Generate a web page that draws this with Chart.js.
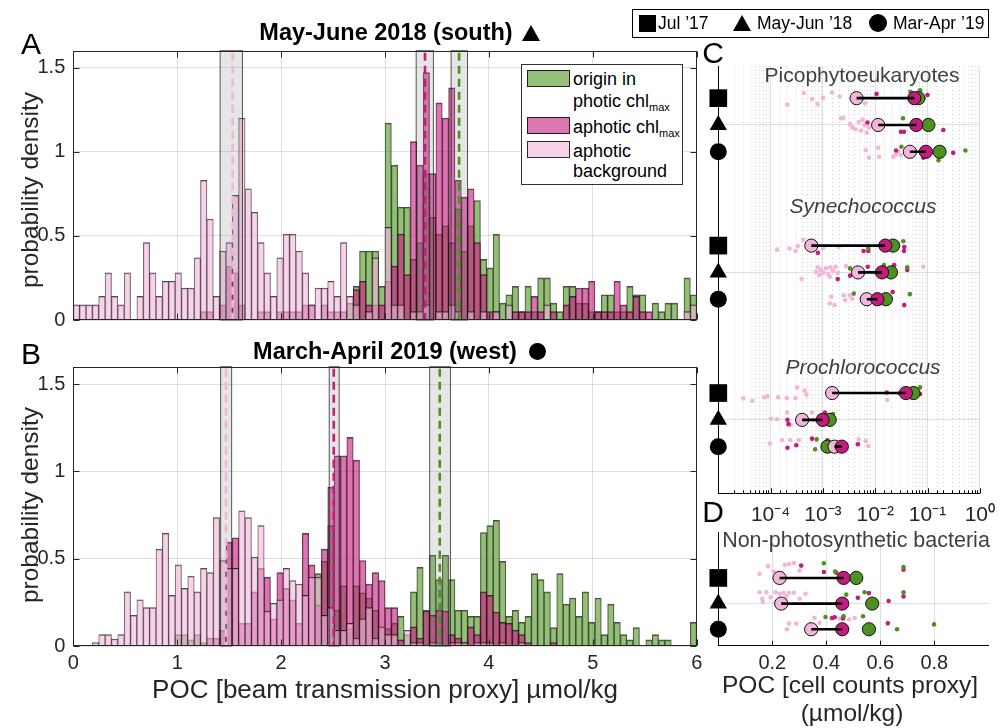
<!DOCTYPE html>
<html>
<head>
<meta charset="utf-8">
<title>POC histograms and cell-count proxies</title>
<script src="https://cdn.jsdelivr.net/npm/chart.js@4.4.1/dist/chart.umd.min.js"></script>
<style>
html,body{margin:0;padding:0;background:#fff;}
body{width:1004px;height:728px;position:relative;overflow:hidden;font-family:"Liberation Sans",Arial,Helvetica,sans-serif;color:#000;}
canvas{position:absolute;}
.t{position:absolute;white-space:nowrap;transform:translate(-50%,-50%);line-height:1;}
.tl{position:absolute;white-space:nowrap;transform:translate(0,-50%);line-height:1;}
.lbl{font-size:30px;}
.ttl{font-weight:bold;font-size:23.5px;}
.ax{font-size:25px;color:#262626;}
.sub{font-size:21px;color:#404040;}
.it{font-style:italic;}
.rot{transform:translate(-50%,-50%) rotate(-90deg);font-size:24.5px;}
#legA{position:absolute;left:521px;top:64px;width:160px;height:119px;border:1px solid #333;background:#fff;}
.patch{position:absolute;left:5px;width:41px;height:15px;border:1px solid rgba(0,0,0,0.8);}
.lt{position:absolute;left:51px;font-size:18px;line-height:1;white-space:nowrap;transform:translate(0,-50%);}
.lt sub{font-size:11px;vertical-align:-4px;line-height:0;}
#legTop{position:absolute;left:632px;top:9px;width:355px;height:27px;border:1px solid #000;background:#fff;font-size:17.5px;}
.sq{position:absolute;left:6px;top:5px;width:17px;height:17px;background:#000;}
.tri{position:absolute;left:100px;top:5px;width:0;height:0;border-left:9px solid transparent;border-right:9px solid transparent;border-bottom:16px solid #000;}
.cir{position:absolute;left:236px;top:4px;width:18px;height:18px;border-radius:50%;background:#000;}
.ttri{position:absolute;width:0;height:0;border-left:9px solid transparent;border-right:9px solid transparent;border-bottom:16px solid #000;}
.tcir{position:absolute;width:17px;height:17px;border-radius:50%;background:#000;}
</style>
</head>
<body>
<canvas id="cA" width="720" height="340" style="left:0;top:0;width:720px;height:340px"></canvas>
<canvas id="cB" width="720" height="340" style="left:0;top:340px;width:720px;height:340px"></canvas>
<canvas id="cC" width="304" height="490" style="left:700px;top:40px;width:304px;height:490px"></canvas>
<canvas id="cD" width="304" height="208" style="left:700px;top:520px;width:304px;height:208px"></canvas>

<div class="t lbl" style="left:31px;top:44px">A</div>
<div class="t ttl" style="left:386px;top:33px">May-June 2018 (south)</div>
<div class="ttri" style="left:522px;top:25px"></div>
<div class="t lbl" style="left:31px;top:354px">B</div>
<div class="t ttl" style="left:385px;top:352px">March-April 2019 (west)</div>
<div class="tcir" style="left:529px;top:343px"></div>
<div class="t ax rot" style="left:30px;top:190px">probability density</div>
<div class="t ax rot" style="left:30px;top:505px">probability density</div>
<div class="t ax" style="left:385px;top:689px;font-size:26px">POC [beam transmission proxy] µmol/kg</div>

<div id="legA">
  <div class="patch" style="top:5px;background:rgba(77,146,33,0.6)"></div>
  <div class="patch" style="top:52px;background:rgba(197,27,125,0.6)"></div>
  <div class="patch" style="top:76px;background:rgba(241,182,218,0.6)"></div>
  <div class="lt" style="top:14px">origin in</div>
  <div class="lt" style="top:36px">photic chl<sub>max</sub></div>
  <div class="lt" style="top:62px">aphotic chl<sub>max</sub></div>
  <div class="lt" style="top:86px">aphotic</div>
  <div class="lt" style="top:106px">background</div>
</div>

<div id="legTop">
  <div class="sq"></div><div class="tl" style="left:25px;top:14px">Jul ’17</div>
  <div class="tri"></div><div class="tl" style="left:124px;top:14px">May-Jun ’18</div>
  <div class="cir"></div><div class="tl" style="left:260px;top:14px">Mar-Apr ’19</div>
</div>

<div class="t lbl" style="left:713px;top:53px">C</div>
<div class="t lbl" style="left:713px;top:512px">D</div>
<div class="t sub" style="left:862px;top:74px">Picophytoeukaryotes</div>
<div class="t sub it" style="left:863px;top:205px">Synechococcus</div>
<div class="t sub it" style="left:863px;top:366px">Prochlorococcus</div>
<div class="t sub" style="left:856px;top:541px;font-size:21.5px">Non-photosynthetic bacteria</div>
<div class="t ax" style="left:850px;top:685px;font-size:24.5px">POC [cell counts proxy]</div>
<div class="t ax" style="left:852px;top:713px;font-size:24.5px">(µmol/kg)</div>

<script>
// ---------------- DATA ----------------
// Panels A/B: probability density in 98 bins spanning POC 0..6 µmol/kg
const aPhotic = [
0,0,0,0,0,0,0,0,0,0,
0,0,0,0,0,0,0,0,0,0,
0,0,0,0,0,0,0,0,0,0,
0,0,0,0,0,0,0,0,0,0,
0,0,0,.10,.20,.41,.41,.41,.20,1.17,
.92,.67,.67,.36,.46,.87,.61,.51,.56,.46,
.66,.41,.56,.71,.36,.31,.51,.10,.15,.20,
.05,.20,.05,.25,.25,.10,.05,.20,.20,.10,
.10,.05,.05,.15,.15,.05,.05,.20,.15,.15,
0,.10,.05,.10,.10,0,.25,.15];
const aAphotic = [
0,0,0,0,0,0,0,0,0,0,
0,0,0,0,0,0,0,0,0,0,
.05,.05,0,.09,.32,.28,.09,0,0,.05,
.05,0,.05,.05,.05,.05,.09,.09,0,.09,
.05,.05,.05,0,.18,.23,.09,.09,.09,.23,
.32,.51,.27,1.06,.92,1.47,.87,1.29,1.20,1.38,
.83,.73,.78,.46,.27,.05,.05,0,0,.05,
.05,.05,.14,.05,0,.05,0,.09,.14,.19,
.19,.23,.05,.05,.05,.23,.09,.05,.14,.05,
.05,0,0,0,0,0,0,0];
const aBackground = [
.09,.09,.09,.09,.14,.28,.14,.09,.28,0,
.14,.46,.28,.14,.23,.23,.28,.19,.19,.37,
.83,.60,.14,.41,.46,.74,1.20,.78,.64,.46,
.28,.14,.37,.51,.51,.41,.28,.09,.19,.19,
.23,.14,.46,.14,.09,0,.05,.37,0,.55,
.09,.09,0,.05,.05,.09,0,.05,.05,.09,
.05,0,.05,0,.05,0,.05,0,.09,0,
0,0,0,0,.09,0,0,0,0,0,
0,0,0,0,0,0,0,0,0,0,
0,0,0,0,0,0,.05,.09];
const bPhotic = [
0,0,0,0,0,0,0,0,0,0,
0,0,0,0,0,0,.065,.065,.035,.065,
0,0,0,0,0,0,0,0,0,0,
0,0,0,0,0,0,0,0,.415,.485,
.69,.205,.345,.10,.345,.305,.275,.205,.10,.10,
.13,.17,.065,.31,.45,.20,.52,.38,.52,.38,
.205,.205,.17,.17,.65,.69,.72,.485,.17,.205,
.135,.17,.415,.38,.31,.105,.415,.24,.275,.17,
.31,.135,.275,.065,.24,.135,.065,.035,.105,0,
.035,.065,.035,.035,0,0,0,.135];
const bAphotic = [
0,0,0,0,0,0,0,0,0,0,
0,0,0,0,0,0,0,0,0,0,
.02,.045,.045,.09,.595,.62,.13,.13,.31,.445,
.395,.155,.42,.33,.265,.13,.645,.465,.235,.555,
.91,1.09,1.09,1.195,1.065,.49,.355,.42,.375,.22,
.22,.035,0,.11,.045,.205,.175,.205,.20,.065,
.045,.02,.11,.065,.31,.29,.195,.135,.13,.09,
.065,.02,0,0,0,.02,0,0,0,0,
0,0,0,0,0,0,0,0,0,0,
0,0,0,0,0,0,0,0];
const bBackground = [
0,0,0,.02,.065,.065,.04,.065,.31,.175,
.265,.22,.22,.555,.645,.29,.465,.33,.40,.31,
.445,.42,.735,.49,.445,.445,.775,.735,.51,.69,
.20,.245,.265,.445,.375,.355,.29,.395,.395,.175,
.22,.09,.09,.13,.045,.155,.22,.045,.11,.065,
.065,0,.09,.02,.02,0,.02,.02,0,.02,
.02,.02,0,.02,.02,.02,0,.02,0,0,
.02,0,0,0,0,0,0,0,0,0,
0,0,0,0,0,0,0,0,0,0,
0,0,0,0,0,0,0,0];
// median bands [low, high] and medians: background, aphotic chl max, photic chl max
const aBands = [[1.413,1.628],[3.30,3.466],[3.636,3.794]];
const aMedians = [1.533,3.385,3.713];
const bBands = [[1.418,1.524],[2.463,2.559],[3.43,3.63]];
const bMedians = [1.47,2.507,3.527];
const xTicksAB = [0,1,2,3,4,5,6];
const yTicksAB = [0,0.5,1,1.5];

// Panels C/D: rows = Jul '17, May-Jun '18, Mar-Apr '19 ; means (µmol/kg)
const cRowY = [[1,2,3],[6.5,7.5,8.5],[12,13,14]];
const cGridY = [2,7.5,13];
const cTickVals = [1e-4,1e-3,1e-2,1e-1,1];
const cTickLabels = ['10⁻⁴','10⁻³','10⁻²','10⁻¹','10⁰'];
const picoPink = [0.0044,0.0114,0.046], picoMag = [0.056,0.061,0.093], picoGreen = [0.067,0.104,0.17];
const synPink = [6.0e-4,0.0047,0.0069], synMag = [0.0156,0.0135,0.011], synGreen = [0.022,0.020,0.016];
const proPink = [0.0015,4.0e-4,0.00167], proMag = [0.0386,9.9e-4,0.0023], proGreen = [0.054,0.00135,0.00122];
const hetPink = [0.227,0.233,0.344], hetMag = [0.464,0.459,0.459], hetGreen = [0.511,0.57,0.558];
// individual samples: [value, row, vertical jitter]
const picoPinkDots = [[2.1e-4,0,.25],[4.3e-4,0,-.19],[6.2e-4,0,.03],[7.9e-4,0,.22],[1.0e-3,0,-.01],[1.5e-3,0,-.21],[2.1e-3,0,-.06],[6.4e-3,0,.19],
[2.2e-3,1,-.25],[2.45e-3,1,-.27],[3.3e-3,1,-.04],[3.65e-3,1,.09],[4.2e-3,1,.16],[4.85e-3,1,-.11],[5.4e-3,1,.21],[5.75e-3,1,-.19],[6.3e-3,1,.01],[6.9e-3,1,.29],[7.6e-3,1,.09],
[6.6e-3,2,-.06],[7.6e-3,2,.22],[0.0114,2,-.15],[0.0119,2,.19],[0.0222,2,.19],[0.0249,2,.10],[0.0275,2,-.02],[0.0308,2,.12]];
const picoMagDots = [[0.0106,0,-.16],[0.083,0,0],[0.1,0,-.12],[7.1e-3,1,-.09],[0.031,1,.25],[0.0355,1,.25],[0.2,1,.19],[0.025,2,-.05],[0.083,2,.22],[0.096,2,-.15],[0.31,2,.04]];
const picoGreenDots = [[0.047,0,-.24],[0.072,0,-.29],[0.034,1,-.25],[0.0316,2,-.19],[0.162,2,.32],[0.53,2,-.05]];
const synPinkDots = [[1.33e-4,0,.15],[2.3e-4,0,.11],[3.0e-4,0,.2],[3.3e-4,0,.02],[4.2e-4,0,-.22],[1.0e-3,0,.09],[2.0e-3,0,.05],
[3.9e-4,1,.25],[7.4e-4,1,-.02],[8.0e-4,1,-.19],[8.6e-4,1,.1],[9.1e-4,1,-.09],[1.02e-3,1,.01],[1.14e-3,1,-.15],[1.26e-3,1,.06],[1.39e-3,1,-.19],[1.56e-3,1,-.06],[1.74e-3,1,-.21],[1.92e-3,1,.01],[1.35e-3,1,.16],[2.75e-3,1,-.24],[0.083,1,-.21],
[1.45e-3,2,-.09],[1.35e-3,2,.16],[1.67e-3,2,.22],[2.5e-3,2,-.15],[2.67e-3,2,.04],[3.26e-3,2,-.15],[3.65e-3,2,-.02],[5.6e-3,2,.04]];
const synMagDots = [[8.0e-4,0,.27],[6.0e-3,0,.2],[7.4e-3,0,.2],[0.0355,0,.2],[0.036,0,.05],[1.92e-3,1,.25],[3.3e-3,1,.12],[7.2e-3,1,-.21],[0.023,1,-.27],[0.041,1,-.09],[0.0216,2,-.27],[0.036,2,.22]];
const synGreenDots = [[7.4e-3,0,.11],[0.0345,0,-.16],[3.3e-3,1,-.15],[0.0147,1,-.27],[0.041,1,-.19],[3.9e-3,2,-.21],[0.046,2,-.19]];
const proPinkDots = [[3.0e-5,0,.2],[4.5e-5,0,.29],[7.5e-5,0,.16],[8.7e-5,0,.12],[1.39e-4,0,.16],[2.04e-4,0,.19],[3.0e-4,0,.19],[3.2e-4,0,-.21],[4.45e-4,0,-.09],[4.85e-4,0,.06],[0.017,0,.26],
[1.02e-4,1,-.04],[1.33e-4,1,-.02],[2.07e-4,1,-.27],[2.45e-4,1,.19],[3.26e-4,1,.12],[6.2e-4,1,-.27],[6.7e-4,1,0],
[9.7e-5,2,-.12],[1.65e-4,2,-.25],[2.38e-4,2,-.25],[3.5e-4,2,-.25],[6.2e-4,2,-.27],[4.85e-3,2,-.27],[6.6e-3,2,-.21],[7.4e-3,2,-.02]];
const proMagDots = [[0.0166,0,-.02],[0.029,0,.01],[0.072,0,.04],[2.1e-4,1,0],[2.2e-4,1,.16],[1.09e-3,1,-.27],[1.56e-3,1,.06],[2.1e-4,2,.04],[3.1e-4,2,-.05],[6.2e-4,2,-.3],[1.22e-3,2,-.24],[4.66e-3,2,-.09]];
const proGreenDots = [[0.072,0,-.21],[1.26e-3,1,0],[1.56e-3,1,-.22],[7.6e-4,2,-.27],[7.1e-4,2,.1],[2.4e-3,2,.1]];
const dRowY = [1,2,3];
const dGridY = [2];
const dTickVals = [0.2,0.4,0.6,0.8];
const hetPinkDots = [[.153,0,-.16],[.184,0,-.46],[.205,0,-.25],[.246,0,-.51],[.262,0,-.54],[.280,0,-.58],[.301,0,-.29],
[.153,1,-.44],[.163,1,-.19],[.178,1,-.44],[.194,1,-.25],[.212,1,-.44],[.227,1,-.38],[.242,1,-.42],[.262,1,-.42],[.280,1,-.42],[.301,1,-.19],[.323,1,-.38],[.165,1,-.06],[.215,1,-.06],[.252,1,-.28],
[.254,2,0],[.262,2,-.22],[.289,2,-.22],[.357,2,-.44],[.375,2,-.25],[.418,2,-.44],[.449,2,-.42],[.484,2,-.38],[.505,2,-.44]];
const hetMagDots = [[.307,0,-.48],[.391,0,-.23],[.437,0,-.2],[.686,0,-.32],[.517,1,-.23],[.558,1,-.41],[.631,1,-.1],[.686,1,-.28],[.422,2,-.44],[.431,2,-.47],[.462,2,-.42],[.628,2,-.23]];
const hetGreenDots = [[.391,0,-.57],[.433,0,-.25],[.686,0,-.42],[.474,1,-.35],[.542,1,-.44],[.686,1,-.44],[.397,2,-.48],[.464,2,-.51],[.536,2,-.51],[.662,2,0],[.799,2,-.19]];
const rowMarkers = ['rect','triangle','circle'];

// ---------------- STYLE ----------------
const GREEN='77,146,33', MAG='197,27,125', PINK='241,182,218';
const EDGE='rgba(0,0,0,0.7)';
const GRID='rgba(38,38,38,0.15)';
const AXC='#262626';
const FONT='"Liberation Sans", Arial, Helvetica, sans-serif';
const TICK=6;
Chart.defaults.font.family = FONT;

const NB = aPhotic.length;
const binLabels = aPhotic.map((_, i) => ((i + 0.5) * 6 / NB).toFixed(3));

function barSet(label, vals, rgb, order){
  return {label, data: vals.map(v => v > 0 ? v : null), backgroundColor:`rgba(${rgb},0.6)`,
    borderColor: EDGE, borderWidth:{left:0.6,right:0.6,top:1,bottom:0}, grouped:false,
    barPercentage:1, categoryPercentage:1, order};
}

function histChart(id, photic, aph, bg, bands, meds, showX, padTop, xAxisH){
  const colors = [PINK, MAG, GREEN];
  const bandPlugin = {id:'bands', afterDatasetsDraw(chart){
    const {ctx, chartArea:a} = chart; const xs = chart.scales.xt;
    ctx.save();
    bands.forEach((b, i) => {
      const x1 = xs.getPixelForValue(b[0]), x2 = xs.getPixelForValue(b[1]);
      ctx.fillStyle = 'rgba(128,128,128,0.2)';
      ctx.fillRect(x1, a.top, x2 - x1, a.bottom - a.top);
      ctx.strokeStyle = 'rgba(0,0,0,0.65)'; ctx.lineWidth = 1; ctx.setLineDash([]);
      ctx.strokeRect(x1, a.top, x2 - x1, a.bottom - a.top);
      const xm = xs.getPixelForValue(meds[i]);
      ctx.setLineDash([8,5]); ctx.lineWidth = 2.6; ctx.strokeStyle = `rgb(${colors[i]})`;
      ctx.beginPath(); ctx.moveTo(xm, a.top + 2); ctx.lineTo(xm, a.bottom); ctx.stroke();
    });
    ctx.restore();
  }};
  const framePlugin = {id:'frame', afterDraw(chart){
    const {ctx, chartArea:a} = chart; const xs = chart.scales.xt, ys = chart.scales.y;
    ctx.save(); ctx.strokeStyle = AXC; ctx.lineWidth = 1;
    const L = Math.round(a.left)+0.5, R = Math.round(a.right)-0.5, T = Math.round(a.top)+0.5, B = Math.round(a.bottom)-0.5;
    ctx.strokeRect(L, T, R-L, B-T);
    ctx.beginPath();
    xTicksAB.forEach(v => { const x = Math.round(xs.getPixelForValue(v))+0.5; ctx.moveTo(x,B); ctx.lineTo(x,B-TICK); ctx.moveTo(x,T); ctx.lineTo(x,T+TICK); });
    yTicksAB.forEach(v => { const y = Math.round(ys.getPixelForValue(v))+0.5; ctx.moveTo(L,y); ctx.lineTo(L+TICK,y); ctx.moveTo(R,y); ctx.lineTo(R-TICK,y); });
    ctx.stroke(); ctx.restore();
  }};
  return new Chart(document.getElementById(id), {
    type:'bar',
    data:{labels: binLabels, datasets:[
      barSet('origin in photic chl max', photic, GREEN, 3),
      barSet('aphotic chl max', aph, MAG, 2),
      barSet('aphotic background', bg, PINK, 1)
    ]},
    options:{
      responsive:false, animation:false, devicePixelRatio:1, events:[],
      layout:{padding:{left:23.3, right:23.3, top:padTop, bottom:0}},
      plugins:{legend:{display:false}, tooltip:{enabled:false}},
      scales:{
        x:{type:'category', display:false, offset:true},
        xt:{type:'linear', position:'bottom', min:0, max:6, offset:false,
          afterBuildTicks:s => { s.ticks = xTicksAB.map(v => ({value:v})); },
          afterFit:s => { s.height = xAxisH; },
          ticks:{display:showX, font:{size:20}, color:AXC, padding:5, maxRotation:0, callback:v => `${v}`},
          grid:{color:GRID, drawTicks:false, offset:false}, border:{display:false}},
        y:{type:'linear', min:0, max:1.6,
          afterBuildTicks:s => { s.ticks = yTicksAB.map(v => ({value:v})); },
          afterFit:s => { s.width = 50; },
          ticks:{font:{size:20}, color:AXC, padding:8, callback:v => `${v}`},
          grid:{color:GRID, drawTicks:false}, border:{display:false}}
      }
    },
    plugins:[bandPlugin, framePlugin]
  });
}

histChart('cA', aPhotic, aAphotic, aBackground, aBands, aMedians, false, 50.7, 9);
histChart('cB', bPhotic, bAphotic, bBackground, bBands, bMedians, true, 26.7, 34);

// ---------------- Panels C / D ----------------
function isDecade(v){ const l = Math.log10(v); return Math.abs(l - Math.round(l)) < 1e-6; }

function rowDatasets(groups, rowY, xMin){
  const ds = [];
  const dots = (key, rgb, order) => ({
    data: groups.flatMap((g, gi) => g[key].map(d => ({x:d[0], y:rowY[gi][d[1]] + d[2]}))),
    backgroundColor:`rgb(${rgb})`, borderWidth:0, pointRadius:2.3, order});
  ds.push(dots('pd', PINK, 9), dots('md', MAG, 8), dots('gd', GREEN, 7));
  const means = (key, rgb, order) => ({
    data: groups.flatMap((g, gi) => g[key].map((v, r) => ({x:v, y:rowY[gi][r]}))),
    backgroundColor:`rgb(${rgb})`, borderColor:'#111', borderWidth:1, pointRadius:6.6, order});
  ds.push(means('green', GREEN, 6), means('pink', PINK, 5), means('mag', MAG, 4));
  groups.forEach((g, gi) => g.pink.forEach((v, r) => {
    ds.push({type:'line', data:[{x:v, y:rowY[gi][r]}, {x:g.mag[r], y:rowY[gi][r]}], showLine:true,
      borderColor:'#000', borderWidth:2.6, pointRadius:0, order:2});
  }));
  ds.push({data: groups.flatMap((g, gi) => rowY[gi].map(y => ({x:xMin, y}))),
    pointStyle: groups.flatMap(() => rowMarkers), pointRadius: groups.flatMap(() => [12.5, 10, 8.5]),
    backgroundColor:'#000', borderWidth:0, clip:false, order:0});
  return ds;
}

const cGroups = [
  {pink:picoPink, mag:picoMag, green:picoGreen, pd:picoPinkDots, md:picoMagDots, gd:picoGreenDots},
  {pink:synPink, mag:synMag, green:synGreen, pd:synPinkDots, md:synMagDots, gd:synGreenDots},
  {pink:proPink, mag:proMag, green:proGreen, pd:proPinkDots, md:proMagDots, gd:proGreenDots}
];
const dGroups = [{pink:hetPink, mag:hetMag, green:hetGreen, pd:hetPinkDots, md:hetMagDots, gd:hetGreenDots}];

const minorGrid = {id:'minorGrid', beforeDatasetsDraw(chart){
  const {ctx, chartArea:a} = chart; const xs = chart.scales.x;
  ctx.save(); ctx.strokeStyle = 'rgba(38,38,38,0.2)'; ctx.lineWidth = 1; ctx.setLineDash([1,3]);
  ctx.beginPath();
  xs.ticks.forEach(t => { if (!isDecade(t.value)) { const x = Math.round(xs.getPixelForValue(t.value))+0.5; ctx.moveTo(x, a.top); ctx.lineTo(x, a.bottom); } });
  ctx.stroke(); ctx.restore();
}};
function axisTicks(majorFn){ return {id:'axTicks', afterDraw(chart){
  const {ctx, chartArea:a} = chart; const xs = chart.scales.x;
  ctx.save(); ctx.strokeStyle = '#000'; ctx.lineWidth = 1; ctx.beginPath();
  xs.ticks.forEach(t => { const x = Math.round(xs.getPixelForValue(t.value))+0.5; const len = majorFn(t.value) ? 5 : 3;
    ctx.moveTo(x, a.bottom); ctx.lineTo(x, a.bottom - len); });
  ctx.stroke(); ctx.restore();
}}; }

new Chart(document.getElementById('cC'), {
  type:'scatter',
  data:{datasets: rowDatasets(cGroups, cRowY, 1e-5)},
  options:{
    responsive:false, animation:false, devicePixelRatio:1, events:[],
    layout:{padding:{left:18.3, right:15.7, top:26, bottom:0}},
    plugins:{legend:{display:false}, tooltip:{enabled:false}},
    scales:{
      x:{type:'logarithmic', min:1e-5, max:1,
        afterFit:s => { s.height = 36.7; },
        ticks:{autoSkip:false, maxRotation:0, font:{size:21}, color:AXC, padding:9,
          callback:(v) => { const i = cTickVals.findIndex(t => Math.abs(Math.log10(t) - Math.log10(v)) < 1e-6); return i >= 0 ? cTickLabels[i] : ''; }},
        grid:{drawTicks:false, color:(c) => (c.tick && isDecade(c.tick.value)) ? GRID : 'rgba(0,0,0,0)'},
        border:{display:true, color:'#000', width:1}},
      y:{type:'linear', min:-0.2, max:15.74, reverse:true,
        afterBuildTicks:s => { s.ticks = cGridY.map(v => ({value:v})); },
        afterFit:s => { s.width = 0; },
        ticks:{display:false}, grid:{drawTicks:false, color:GRID},
        border:{display:true, color:'#000', width:1}}
    }
  },
  plugins:[minorGrid, axisTicks(isDecade)]
});

new Chart(document.getElementById('cD'), {
  type:'scatter',
  data:{datasets: rowDatasets(dGroups, [dRowY], 0)},
  options:{
    responsive:false, animation:false, devicePixelRatio:1, events:[],
    layout:{padding:{left:18.3, right:15.7, top:10, bottom:0}},
    plugins:{legend:{display:false}, tooltip:{enabled:false}},
    scales:{
      x:{type:'linear', min:0, max:1,
        afterBuildTicks:s => { s.ticks = dTickVals.map(v => ({value:v})); },
        afterFit:s => { s.height = 82.3; },
        ticks:{autoSkip:false, maxRotation:0, font:{size:20}, color:AXC, padding:6},
        grid:{drawTicks:false, color:GRID},
        border:{display:true, color:'#000', width:1}},
      y:{type:'linear', min:-0.77, max:3.64, reverse:true,
        afterBuildTicks:s => { s.ticks = dGridY.map(v => ({value:v})); },
        afterFit:s => { s.width = 0; },
        ticks:{display:false}, grid:{drawTicks:false, color:GRID},
        border:{display:true, color:'#000', width:1}}
    }
  },
  plugins:[axisTicks(() => true)]
});
</script>
</body>
</html>
